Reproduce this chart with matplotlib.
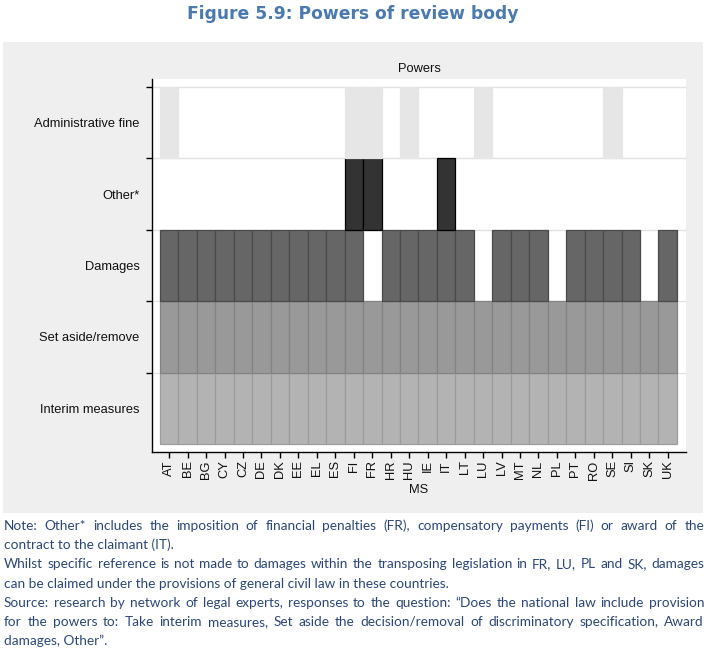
import matplotlib
matplotlib.use("Agg")
import matplotlib.pyplot as plt
from matplotlib.patches import Rectangle

countries = ["AT", "BE", "BG", "CY", "CZ", "DE", "DK", "EE", "EL", "ES", "FI", "FR", "HR", "HU",
             "IE", "IT", "LT", "LU", "LV", "MT", "NL", "PL", "PT", "RO", "SE", "SI", "SK", "UK"]
row_labels = ["Interim measures", "Set aside/remove", "Damages", "Other*", "Administrative fine"]

interim_measures = [1, 1, 1, 1, 1, 1, 1, 1, 1, 1, 1, 1, 1, 1, 1, 1, 1, 1, 1, 1, 1, 1, 1, 1, 1, 1, 1, 1]
set_aside = [1, 1, 1, 1, 1, 1, 1, 1, 1, 1, 1, 1, 1, 1, 1, 1, 1, 1, 1, 1, 1, 1, 1, 1, 1, 1, 1, 1]
damages = [1, 1, 1, 1, 1, 1, 1, 1, 1, 1, 1, 0, 1, 1, 1, 1, 1, 0, 1, 1, 1, 0, 1, 1, 1, 1, 0, 1]
other = [0, 0, 0, 0, 0, 0, 0, 0, 0, 0, 1, 1, 0, 0, 0, 1, 0, 0, 0, 0, 0, 0, 0, 0, 0, 0, 0, 0]
admin_fine = [1, 0, 0, 0, 0, 0, 0, 0, 0, 0, 1, 1, 0, 1, 0, 0, 0, 1, 0, 0, 0, 0, 0, 0, 1, 0, 0, 0]

series = [interim_measures, set_aside, damages, other, admin_fine]
fills = ["#b3b3b3", "#999999", "#666666", "#333333", "#e6e6e6"]
edges = ["#9c9c9c", "#838383", "#4a4a4a", "#000000", "#e6e6e6"]

title = "Figure 5.9: Powers of review body"
note_paragraphs = [
    ["Note: Other* includes the imposition of financial penalties (FR), compensatory payments (FI) or award of the",
     "contract to the claimant (IT)."],
    ["Whilst specific reference is not made to damages within the transposing legislation in FR, LU, PL and SK, damages",
     "can be claimed under the provisions of general civil law in these countries."],
    ["Source: research by network of legal experts, responses to the question: \u201cDoes the national law include provision",
     "for the powers to: Take interim measures, Set aside the decision/removal of discriminatory specification, Award",
     "damages, Other\u201d."],
]

W, H = 716, 656
fig = plt.figure(figsize=(W / 100, H / 100), dpi=100)
fig.patch.set_facecolor("white")

# grey panel
fig.patches.append(Rectangle((3 / W, 1 - 513 / H), 700 / W, 471 / H, transform=fig.transFigure,
                             facecolor="#efefef", edgecolor="none", zorder=0))

ax = fig.add_axes([152 / W, 1 - 452 / H, (686 - 152) / W, (452 - 79) / H])
ax.set_facecolor("white")
ax.set_zorder(1)

chart_font = "Liberation Sans"
fs = 9.3

x = list(range(len(countries)))
for r, vals in enumerate(series):
    xs = [i for i, v in zip(x, vals) if v]
    ax.bar(xs, [1] * len(xs), bottom=r, width=1.0, color=fills[r], edgecolor=edges[r],
           linewidth=0.9, zorder=3)

for yv in range(1, 6):
    ax.axhline(yv, color="#e2e2e2", lw=1, zorder=1)

ax.set_xlim(-0.93, 27.99)
ax.set_ylim(-0.112, 5.112)

for s in ["top", "right"]:
    ax.spines[s].set_visible(False)
for s in ["left", "bottom"]:
    ax.spines[s].set_color("black")
    ax.spines[s].set_linewidth(1.0)

ax.set_yticks([1, 2, 3, 4, 5])
ax.set_yticklabels([])
ax.tick_params(axis="y", which="major", length=4.5, width=1, direction="out", color="black")
ax.set_yticks([0.5, 1.5, 2.5, 3.5, 4.5], minor=True)
ax.set_yticklabels(row_labels, minor=True, fontsize=fs, family=chart_font, color="#111111")
ax.tick_params(axis="y", which="minor", length=0, pad=9)

ax.set_xticks(x)
ax.set_xticklabels(countries, rotation=90, fontsize=fs, family=chart_font, color="#111111")
ax.tick_params(axis="x", length=4, width=1, direction="out", pad=2, color="black")
ax.set_xlabel("MS", fontsize=fs, family=chart_font, color="#111111", labelpad=3)
ax.set_title("Powers", fontsize=fs, family=chart_font, color="#111111", pad=5)

fig.text(353 / W, 1 - 14 / H, title, ha="center", va="center", fontsize=12.3,
         fontweight="bold", family="DejaVu Sans", color="#4a7aae")

# justified note text
renderer = fig.canvas.get_renderer()
note_color = "#2c4775"
note_font = "Lato"
left_px, right_px = 4, 704
line_h = 19.2
y0 = 526
note_fs = 9.8


def measure(s, size):
    t = fig.text(0, 0, s, fontsize=size, family=note_font)
    w = t.get_window_extent(renderer).width
    t.remove()
    return w

# shrink font size so the longest justified line fits with natural spacing
longest = max((p[i] for p in note_paragraphs for i in range(len(p) - 1)),
              key=lambda s: measure(s, note_fs))
while measure(longest, note_fs) > (right_px - left_px) - 2:
    note_fs -= 0.05

line_idx = 0
for para in note_paragraphs:
    for i, line in enumerate(para):
        y = 1 - (y0 + line_idx * line_h) / H
        if i < len(para) - 1:
            words = line.split(" ")
            widths = [measure(w_, note_fs) for w_ in words]
            gap = ((right_px - left_px) - sum(widths)) / (len(words) - 1)
            xp = left_px
            for w_, wd in zip(words, widths):
                fig.text(xp / W, y, w_, fontsize=note_fs, family=note_font, color=note_color,
                         ha="left", va="center")
                xp += wd + gap
        else:
            fig.text(left_px / W, y, line, fontsize=note_fs, family=note_font, color=note_color,
                     ha="left", va="center")
        line_idx += 1

fig.savefig("out.png", dpi=100, facecolor="white")
